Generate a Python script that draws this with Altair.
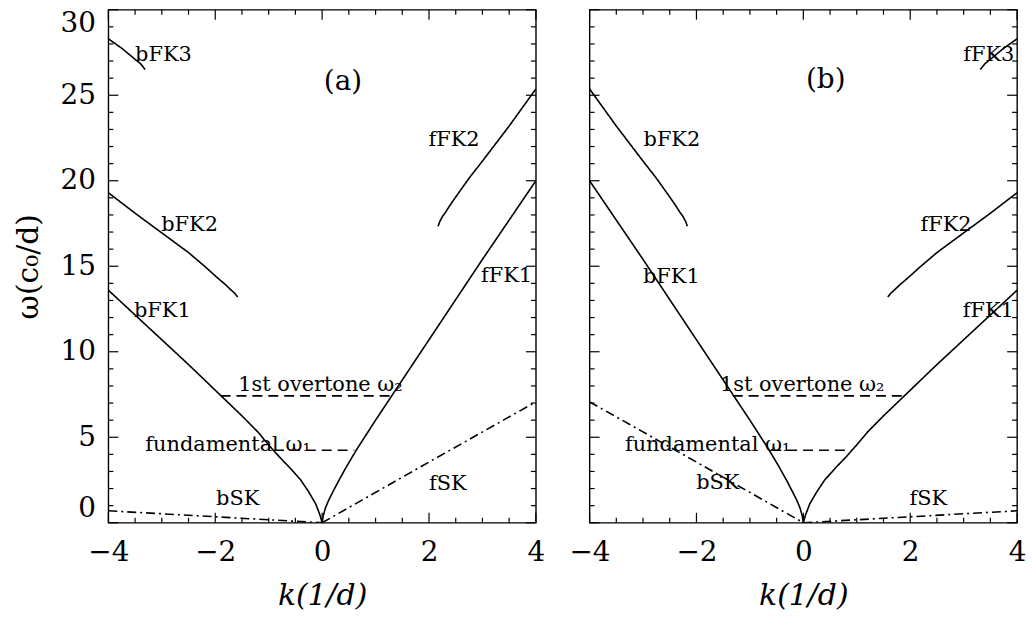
import altair as alt
import pandas as pd

# ---------------- data ----------------
# panel (a)
a_bFK1_k = [-4, -3.5, -3, -2.5, -2, -1.5, -1.2, -1.0, -0.8, -0.6, -0.4, -0.25, -0.12, -0.04, 0]
a_bFK1_w = [13.6, 12.15, 10.7, 9.25, 7.75, 6.25, 5.3, 4.55, 3.85, 3.2, 2.5, 1.8, 1.1, 0.45, 0]
a_fFK1_k = [0, 0.02, 0.06, 0.12, 0.2, 0.3, 0.45, 0.65, 1.0, 1.5, 2.0, 2.5, 3.0, 3.5, 4.0]
a_fFK1_w = [0, 0.4, 0.85, 1.3, 1.8, 2.4, 3.25, 4.3, 6.0, 8.35, 10.7, 13.05, 15.4, 17.7, 20.0]
a_bFK2_k = [-4, -3.5, -3, -2.5, -2.2, -1.95, -1.8, -1.7, -1.63, -1.58]
a_bFK2_w = [19.3, 18.1, 16.95, 15.8, 15.0, 14.3, 13.9, 13.6, 13.4, 13.2]
a_fFK2_k = [2.17, 2.2, 2.25, 2.31, 2.4, 2.5, 2.75, 3.0, 3.5, 4.0]
a_fFK2_w = [17.34, 17.6, 17.9, 18.16, 18.6, 19.05, 20.15, 21.15, 23.2, 25.37]
a_bFK3_k = [-4, -3.75, -3.5, -3.4, -3.31]
a_bFK3_w = [28.3, 27.75, 27.1, 26.85, 26.5]
a_bSK_k = [-4, -2, 0]
a_bSK_w = [0.7, 0.35, 0]
a_fSK_k = [0, 2, 4]
a_fSK_w = [0, 3.55, 7.07]
a_ovt_k = [-1.9, 1.32]
a_ovt_w = [7.42, 7.42]
a_fun_k = [-0.9, 0.6]
a_fun_w = [4.24, 4.24]

# panel (b)
b_bFK1_k = [-4, -3.5, -3, -2.5, -2, -1.5, -1.0, -0.65, -0.45, -0.3, -0.2, -0.12, -0.06, -0.02, 0]
b_bFK1_w = [20.0, 17.7, 15.4, 13.05, 10.7, 8.35, 6.0, 4.3, 3.25, 2.4, 1.8, 1.3, 0.85, 0.4, 0]
b_fFK1_k = [0, 0.04, 0.12, 0.25, 0.4, 0.6, 0.8, 1.0, 1.2, 1.5, 2, 2.5, 3, 3.5, 4]
b_fFK1_w = [0, 0.45, 1.1, 1.8, 2.5, 3.2, 3.85, 4.55, 5.3, 6.25, 7.75, 9.25, 10.7, 12.15, 13.6]
b_bFK2_k = [-4, -3.5, -3, -2.75, -2.5, -2.4, -2.31, -2.25, -2.2, -2.17]
b_bFK2_w = [25.37, 23.2, 21.15, 20.15, 19.05, 18.6, 18.16, 17.9, 17.6, 17.34]
b_fFK2_k = [1.58, 1.63, 1.7, 1.8, 1.95, 2.2, 2.5, 3, 3.5, 4]
b_fFK2_w = [13.2, 13.4, 13.6, 13.9, 14.3, 15.0, 15.8, 16.95, 18.1, 19.3]
b_fFK3_k = [3.31, 3.4, 3.5, 3.75, 4]
b_fFK3_w = [26.5, 26.85, 27.1, 27.75, 28.3]
b_bSK_k = [-4, -2, 0]
b_bSK_w = [7.07, 3.55, 0]
b_fSK_k = [0, 2, 4]
b_fSK_w = [0, 0.35, 0.7]
b_ovt_k = [-1.32, 1.9]
b_ovt_w = [7.42, 7.42]
b_fun_k = [-0.6, 0.9]
b_fun_w = [4.24, 4.24]

# labels
a_lab_text = ["bFK3", "fFK2", "bFK2", "fFK1", "bFK1", "1st overtone ω₂", "fundamental ω₁", "bSK", "fSK", "(a)"]
a_lab_k = [-2.97, 2.47, -2.48, 3.45, -2.99, -0.03, -1.76, -1.58, 2.35, 0.39]
a_lab_w = [27.38, 22.38, 17.42, 14.4, 12.4, 8.08, 4.55, 1.36, 2.29, 25.8]
b_lab_text = ["fFK3", "bFK2", "fFK2", "bFK1", "fFK1", "1st overtone ω₂", "fundamental ω₁", "bSK", "fSK", "(b)"]
b_lab_k = [3.47, -2.46, 2.67, -2.47, 3.46, -0.02, -1.79, -1.6, 2.34, 0.42]
b_lab_w = [27.38, 22.39, 17.42, 14.39, 12.39, 8.08, 4.55, 2.33, 1.36, 25.9]

# axis ticks
x_major = [-4, -2, 0, 2, 4]
x_minor = [-3.5, -3, -2.5, -1.5, -1, -0.5, 0.5, 1, 1.5, 2.5, 3, 3.5]
y_major = [0, 5, 10, 15, 20, 25, 30]
y_minor = [1, 2, 3, 4, 6, 7, 8, 9, 11, 12, 13, 14, 16, 17, 18, 19, 21, 22, 23, 24, 26, 27, 28, 29]

# ---------------- build ----------------
W, H = 430, 516
MAJ, MIN = 10, 5
FONT = "DejaVu Serif"


def curves(items):
    rows = []
    for name, style, ks, ws in items:
        for i, (k, w) in enumerate(zip(ks, ws)):
            rows.append({"curve": name, "style": style, "i": i, "k": k, "w": w})
    return pd.DataFrame(rows)


def panel(items, lab_text, lab_k, lab_w, show_y):
    xs = alt.Scale(domain=[-4, 4], nice=False, zero=False, padding=0)
    ys = alt.Scale(domain=[0, 30], nice=False, zero=False, padding=0)
    xaxis = alt.Axis(values=x_major, ticks=False, domain=False, grid=False,
                     labelFont=FONT, labelFontSize=28, labelPadding=16,
                     labelFlush=False, labelColor="black", title="k(1/d)",
                     titleFont=FONT, titleFontSize=30, titleFontStyle="italic",
                     titleFontWeight="normal", titleColor="black", titlePadding=14)
    if show_y:
        yaxis = alt.Axis(values=y_major, ticks=False, domain=False, grid=False,
                         labelFont=FONT, labelFontSize=28, labelPadding=13,
                         labelColor="black", labelFlush=True,
                         title="ω(c₀/d)", titleFont=FONT, titleFontSize=30,
                         titleFontWeight="normal", titleColor="black", titlePadding=17)
    else:
        yaxis = None

    def X(f):
        return alt.X(f, type="quantitative", scale=xs, axis=xaxis)

    def Y(f):
        return alt.Y(f, type="quantitative", scale=ys, axis=yaxis)

    df = curves(items)
    lines = alt.Chart(df).mark_line(color="black", strokeWidth=1.6, clip=True).encode(
        x=X("k"), y=Y("w"), detail="curve:N", order="i:Q",
        strokeDash=alt.StrokeDash("style:N", scale=alt.Scale(
            domain=["solid", "dash", "dashdot"],
            range=[[1, 0], [10, 6], [9, 4, 2, 4]]), legend=None))

    labs = pd.DataFrame({"text": lab_text, "k": lab_k, "w": lab_w,
                         "fs": [21] * (len(lab_text) - 1) + [28]})
    text = alt.Chart(labs).mark_text(font=FONT, color="black", align="center",
                                     baseline="middle").encode(
        x=X("k"), y=Y("w"), text="text:N", size=alt.Size("fs:Q", scale=None))

    layers = [lines, text]
    for vals, L in ((x_major, MAJ), (x_minor, MIN)):
        d = pd.DataFrame({"v": vals})
        layers.append(alt.Chart(d).mark_rule(color="black", strokeWidth=1.2).encode(
            x=X("v"), y=alt.value(H), y2=alt.value(H - L)))
        layers.append(alt.Chart(d).mark_rule(color="black", strokeWidth=1.2).encode(
            x=X("v"), y=alt.value(0), y2=alt.value(L)))
    for vals, L in ((y_major, MAJ), (y_minor, MIN)):
        d = pd.DataFrame({"v": vals})
        layers.append(alt.Chart(d).mark_rule(color="black", strokeWidth=1.2).encode(
            y=Y("v"), x=alt.value(0), x2=alt.value(L)))
        layers.append(alt.Chart(d).mark_rule(color="black", strokeWidth=1.2).encode(
            y=Y("v"), x=alt.value(W), x2=alt.value(W - L)))
    return alt.layer(*layers).properties(width=W, height=H)


pa = panel([
    ("bFK1", "solid", a_bFK1_k, a_bFK1_w),
    ("fFK1", "solid", a_fFK1_k, a_fFK1_w),
    ("bFK2", "solid", a_bFK2_k, a_bFK2_w),
    ("fFK2", "solid", a_fFK2_k, a_fFK2_w),
    ("bFK3", "solid", a_bFK3_k, a_bFK3_w),
    ("bSK", "dashdot", a_bSK_k, a_bSK_w),
    ("fSK", "dashdot", a_fSK_k, a_fSK_w),
    ("ovt", "dash", a_ovt_k, a_ovt_w),
    ("fun", "dash", a_fun_k, a_fun_w),
], a_lab_text, a_lab_k, a_lab_w, True)

pb = panel([
    ("bFK1", "solid", b_bFK1_k, b_bFK1_w),
    ("fFK1", "solid", b_fFK1_k, b_fFK1_w),
    ("bFK2", "solid", b_bFK2_k, b_bFK2_w),
    ("fFK2", "solid", b_fFK2_k, b_fFK2_w),
    ("fFK3", "solid", b_fFK3_k, b_fFK3_w),
    ("bSK", "dashdot", b_bSK_k, b_bSK_w),
    ("fSK", "dashdot", b_fSK_k, b_fSK_w),
    ("ovt", "dash", b_ovt_k, b_ovt_w),
    ("fun", "dash", b_fun_k, b_fun_w),
], b_lab_text, b_lab_k, b_lab_w, False)

chart = alt.hconcat(pa, pb, spacing=54, bounds="flush").properties(
    padding={"left": 12, "top": 6, "right": 5, "bottom": 5},
    background="white",
).configure_view(stroke="black", strokeWidth=1.4)

chart.save("out.html", embed_options={"renderer": "svg", "actions": False})
